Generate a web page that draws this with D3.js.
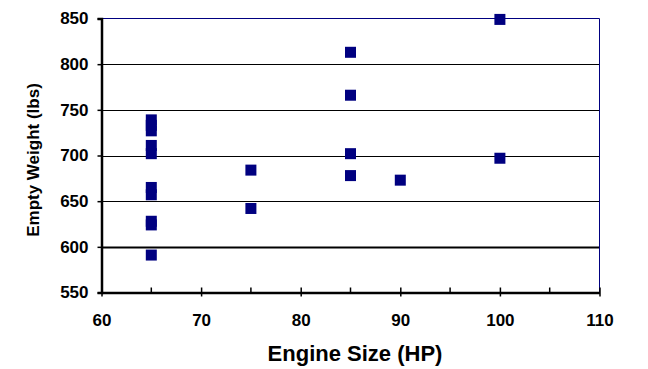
<!DOCTYPE html>
<html>
<head>
<meta charset="utf-8">
<script src="https://cdn.jsdelivr.net/npm/d3@7"></script>
<style>
  body { margin: 0; background: #fff; }
  text { font-family: Arial, "Liberation Sans", sans-serif; font-weight: bold; fill: #000; }
</style>
</head>
<body>
<div id="chart"></div>
<script>
// engine size (HP) and empty weight (lbs)
var engineHP    = [65, 65, 65, 65, 65, 65, 65, 65, 65, 65, 75, 75, 85, 85, 85, 85, 90, 100, 100]
var emptyWeight = [739, 733, 727, 711, 702, 665, 657, 628, 624, 591, 684, 642, 813, 766, 702, 678, 673, 849, 697]

var xTicks = [60, 70, 80, 90, 100, 110]
var xMinorTicks = [65, 75, 85, 95, 105]
var yTicks = [550, 600, 650, 700, 750, 800, 850]

var width = 648,
    height = 369

// plot area edges
var plotL = 101.5, plotR = 599.5, plotT = 18.5, plotB = 292.5

var svg = d3.select("#chart")
  .append("svg")
    .attr("width", width)
    .attr("height", height)

var x = d3.scaleLinear().domain([60, 110]).range([plotL, plotR])
var y = d3.scaleLinear().domain([550, 850]).range([plotB, plotT])

// gridlines
svg.append("g")
  .selectAll("line")
  .data(yTicks.filter(d => d > 550 && d < 850))
  .enter()
  .append("line")
    .attr("x1", plotL)
    .attr("x2", plotR)
    .attr("y1", d => Math.round(y(d)) + 0.5)
    .attr("y2", d => Math.round(y(d)) + 0.5)
    .attr("stroke", "#000")
    .attr("stroke-width", d => d === 600 ? 2 : 1)

// top and right border in navy
svg.append("path")
  .attr("d", "M" + plotL + "," + plotT + "H" + plotR + "V" + plotB)
  .attr("fill", "none")
  .attr("stroke", "#000080")
  .attr("stroke-width", 1)

// y axis
var yAxis = svg.append("g")
  .attr("transform", "translate(" + plotL + ",0)")
  .call(d3.axisLeft(y).tickValues(yTicks).tickSize(4).tickPadding(9))
yAxis.select(".domain").attr("stroke-width", 2.5)
yAxis.selectAll(".tick line").attr("stroke-width", 1.5)
yAxis.selectAll(".tick text")
  .style("font-size", "17px")
  .style("font-family", "Arial, 'Liberation Sans', sans-serif")
  .style("font-weight", "bold")
  .attr("fill", "#000")

// x axis, minor ticks inside
svg.append("g")
  .selectAll("line")
  .data(xMinorTicks)
  .enter()
  .append("line")
    .attr("x1", d => x(d))
    .attr("x2", d => x(d))
    .attr("y1", plotB - 5)
    .attr("y2", plotB)
    .attr("stroke", "#000")
    .attr("stroke-width", 1.5)

var xAxis = svg.append("g")
  .attr("transform", "translate(0," + plotB + ")")
  .call(d3.axisBottom(x).tickValues(xTicks).tickSizeInner(4).tickSizeOuter(0).tickPadding(17))
xAxis.select(".domain").attr("stroke-width", 2.5)
xAxis.selectAll(".tick line").attr("y1", -5).attr("stroke-width", 1.5)
xAxis.selectAll(".tick text")
  .style("font-size", "17px")
  .style("font-family", "Arial, 'Liberation Sans', sans-serif")
  .style("font-weight", "bold")
  .attr("fill", "#000")

// points
svg.append("g")
  .selectAll("rect")
  .data(engineHP.map((d, i) => [d, emptyWeight[i]]))
  .enter()
  .append("rect")
    .attr("x", d => x(d[0]) - 5.5)
    .attr("y", d => y(d[1]) - 5.5)
    .attr("width", 11)
    .attr("height", 11)
    .attr("fill", "#000080")

// axis titles
svg.append("text")
  .attr("x", 355)
  .attr("y", 361)
  .attr("text-anchor", "middle")
  .style("font-size", "22px")
  .text("Engine Size (HP)")

svg.append("text")
  .attr("transform", "translate(39,160) rotate(-90)")
  .attr("text-anchor", "middle")
  .style("font-size", "17px")
  .text("Empty Weight (lbs)")
</script>
</body>
</html>
